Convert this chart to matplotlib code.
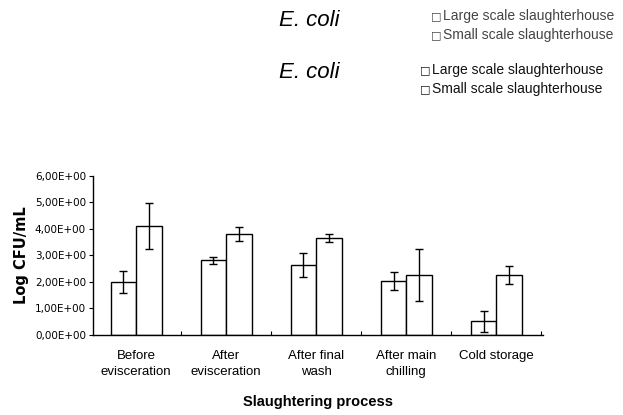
import matplotlib
matplotlib.use("Agg")
import matplotlib.pyplot as plt
import numpy as np

# data
categories = ["Before\nevisceration", "After\nevisceration", "After final\nwash",
              "After main\nchilling", "Cold storage"]
large_mean = [2.00, 2.81, 2.65, 2.03, 0.51]
large_err = [0.40, 0.13, 0.45, 0.34, 0.41]
small_mean = [4.12, 3.81, 3.65, 2.25, 2.26]
small_err = [0.86, 0.26, 0.15, 0.98, 0.33]
yticks = [0, 1, 2, 3, 4, 5, 6]
ytick_labels = ["0,00E+00", "1,00E+00", "2,00E+00", "3,00E+00",
                "4,00E+00", "5,00E+00", "6,00E+00"]
series_names = ["Large scale slaughterhouse", "Small scale slaughterhouse"]

fig = plt.figure(figsize=(6.23, 4.15), dpi=100)
ax = fig.add_axes([0.149, 0.193, 0.723, 0.383])

x = np.arange(len(categories))
w = 0.283
ekw = dict(ecolor="black", elinewidth=1.0, capthick=1.0)
ax.bar(x - w / 2, large_mean, w, color="white", edgecolor="black", linewidth=1.0,
       yerr=large_err, capsize=3, error_kw=ekw)
ax.bar(x + w / 2, small_mean, w, color="white", edgecolor="black", linewidth=1.0,
       yerr=small_err, capsize=3, error_kw=ekw)

ax.set_xlim(-0.48, 4.52)
ax.set_ylim(0, 6)
ax.set_yticks(yticks)
ax.set_yticklabels(ytick_labels, fontsize=7.5, family="Liberation Sans Narrow")
ax.tick_params(axis="y", direction="out", length=3, width=0.8, pad=2)
ax.set_xticks(x)
ax.set_xticklabels(categories, fontsize=9.5, family="Liberation Sans", linespacing=1.45)
ax.tick_params(axis="x", length=0, pad=11)
ax.set_xticks(np.arange(0.5, 4.6, 1.0), minor=True)
ax.tick_params(axis="x", which="minor", direction="in", length=3, width=0.8)
for s in ["top", "right"]:
    ax.spines[s].set_visible(False)
for s in ["left", "bottom"]:
    ax.spines[s].set_linewidth(1.0)

ax.set_ylabel("Log CFU/mL", fontsize=10.5, fontweight="bold", labelpad=4)
ax.set_xlabel("Slaughtering process", fontsize=10.5, fontweight="bold",
              family="Liberation Sans", labelpad=12)

# header: title and legend appear twice in the reference
header = [(20, 309, [16, 35], 431, "#444444"), (72, 309, [70, 89], 420, "#111111")]
for ty, tx, rows, sx, col in header:
    fig.text(tx / 623, 1 - ty / 415, "E. coli", fontsize=16, style="italic",
             family="Liberation Sans", ha="center", va="center")
    for k, name in enumerate(series_names):
        yy = 1 - rows[k] / 415
        fig.text(sx / 623, yy, "\u25a1", fontsize=8, ha="left", va="center",
                 family="DejaVu Sans", color=col)
        fig.text((sx + 12) / 623, yy, name, fontsize=10, ha="left", va="center",
                 family="Liberation Sans", color=col)

fig.savefig("out.png", dpi=100)
